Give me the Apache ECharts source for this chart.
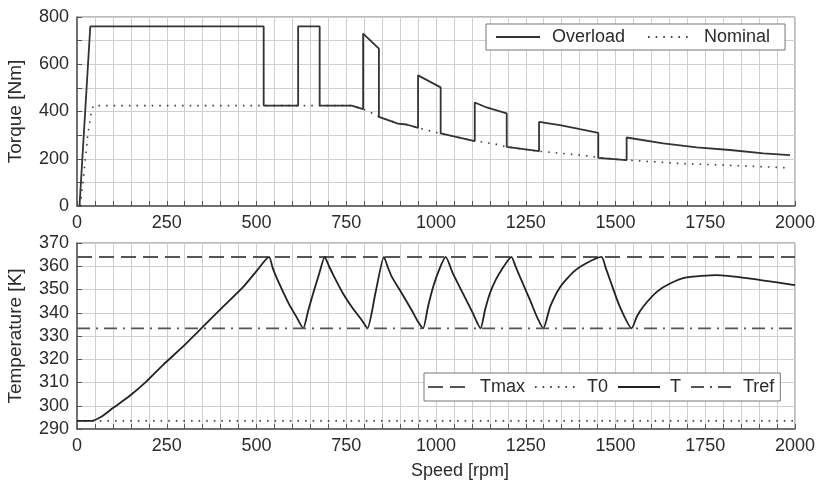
<!DOCTYPE html>
<html>
<head>
<meta charset="utf-8">
<script src="https://cdn.jsdelivr.net/npm/echarts@6/dist/echarts.min.js"></script>
<style>
  html, body { margin: 0; padding: 0; background: #fff; }
  #main { width: 825px; height: 482px; }
</style>
</head>
<body>
<div id="main"></div>
<script>
// speed tick labels (shared by both plots)
const speedTicks = [0, 250, 500, 750, 1000, 1250, 1500, 1750, 2000];

// top plot: torque [Nm]
const overloadSpeed = [7, 37, 520, 520, 616, 616, 676, 676, 765, 797, 797, 841, 841, 894, 918, 950, 950, 1013, 1013, 1108, 1108, 1141, 1197, 1197, 1287, 1287, 1345, 1401, 1452, 1452, 1531, 1531, 1633, 1726, 1819, 1912, 1986];
const overloadTorque = [0, 760, 760, 425, 425, 760, 760, 425, 425, 410, 730, 666, 377, 349, 345, 331, 553, 502, 307, 275, 438, 417, 392, 250, 232, 356, 342, 325, 310, 204, 194, 290, 265, 248, 237, 223, 215];

const nominalSpeed = [9, 20, 30, 40, 46, 765, 797, 821, 841, 894, 918, 950, 1002, 1013, 1108, 1125, 1169, 1197, 1289, 1301, 1430, 1452, 1531, 1545, 1680, 1819, 1972, 1984];
const nominalTorque = [0, 150, 300, 400, 425, 425, 410, 394, 378, 350, 345, 331, 311, 307, 275, 272, 261, 250, 231, 230, 211, 205, 194, 193, 180, 172, 162, 160];

// bottom plot: temperature [K]
const tempSpeed = [0, 40, 70, 100, 147, 193, 240, 295, 351, 407, 463, 500, 535, 545, 555, 574, 592, 611, 630, 645, 660, 675, 690, 702, 714, 741, 768, 793, 809, 832, 855, 866, 877, 905, 932, 950, 964, 978, 992, 1010, 1027, 1047, 1075, 1103, 1124, 1137, 1150, 1166, 1182, 1210, 1222, 1234, 1262, 1281, 1299, 1318, 1346, 1383, 1420, 1461, 1473, 1485, 1512, 1545, 1560, 1577, 1615, 1652, 1698, 1782, 1875, 2000];
const tempValue = [293.5, 293.5, 295.5, 299, 304.3, 310.4, 317.6, 325.4, 334, 342.6, 351.1, 357.9, 364, 359.3, 355.4, 349, 343.3, 338.3, 333.3, 341.5, 349.5, 357, 364, 360, 356.2, 348.3, 341.9, 336.9, 333.3, 349, 364, 359.5, 355.4, 348.3, 341.2, 336.1, 333.3, 342.8, 351.1, 359, 364, 356.9, 348.3, 339.7, 333.3, 341.5, 348.3, 354, 358.3, 364, 359.8, 355.4, 345.4, 338.3, 333.3, 342.6, 351.1, 357.6, 361.4, 364, 359.2, 354, 342.6, 333.3, 338.5, 342.6, 349, 352.6, 355.2, 356.2, 354.7, 351.9];

const tmaxValue = 364;
const t0Value = 293.5;
const trefValue = 333.3;
const limitSpeed = [0, 2000];

const FONT = 'Liberation Sans, Arial, sans-serif';
const INK = '#2b2b2b';

function pairs(xs, ys) {
    return xs.map((x, i) => [x, ys[i]]);
}
function flat(v) {
    return limitSpeed.map(x => [x, v]);
}

function xAxisFor(gridIndex) {
    return {
        type: 'value',
        gridIndex: gridIndex,
        min: speedTicks[0],
        max: speedTicks[speedTicks.length - 1],
        interval: speedTicks[1] - speedTicks[0],
        axisLine: { show: true, lineStyle: { color: '#555', width: 1.5 } },
        axisTick: { show: true, inside: true, length: 5, lineStyle: { color: '#555' } },
        minorTick: { show: true, splitNumber: 5, length: 5, lineStyle: { color: '#555' } },
        splitLine: { show: true, lineStyle: { color: '#cfcfcf', width: 1 } },
        minorSplitLine: { show: true, lineStyle: { color: '#cfcfcf', width: 1 } },
        axisLabel: { color: INK, fontSize: 18, fontFamily: FONT, margin: 8, formatter: v => String(v) }
    };
}

// legend icons: line only, hide the symbol part
const legendBase = {
    orient: 'horizontal',
    itemHeight: 14,
    backgroundColor: '#fff',
    borderColor: '#777',
    borderWidth: 1,
    borderRadius: 0,
    itemStyle: { opacity: 0 }
};

let mychart = echarts.init(document.getElementById('main'), null, { renderer: 'canvas' });

mychart.setOption({
    animation: false,
    backgroundColor: '#fff',
    grid: [
        { left: 77, top: 17, width: 718, height: 189, show: true, borderColor: '#777', borderWidth: 1, outerBoundsMode: 'none' },
        { left: 77, top: 243, width: 718, height: 186, show: true, borderColor: '#777', borderWidth: 1, outerBoundsMode: 'none' }
    ],
    xAxis: [xAxisFor(0), xAxisFor(1)],
    yAxis: [
        {
            type: 'value',
            gridIndex: 0,
            min: 0,
            max: 800,
            interval: 200,
            name: 'Torque [Nm]',
            nameLocation: 'middle',
            nameGap: 52,
            nameTextStyle: { color: INK, fontSize: 19, fontFamily: FONT },
            axisLine: { show: true, lineStyle: { color: '#555', width: 1.5 } },
            axisTick: { show: true, inside: true, length: 5, lineStyle: { color: '#555' } },
            minorTick: { show: true, splitNumber: 2, length: 5, lineStyle: { color: '#555' } },
            splitLine: { show: true, lineStyle: { color: '#cfcfcf', width: 1 } },
            minorSplitLine: { show: true, lineStyle: { color: '#cfcfcf', width: 1 } },
            axisLabel: { color: INK, fontSize: 18, fontFamily: FONT, margin: 8 }
        },
        {
            type: 'value',
            gridIndex: 1,
            min: 290,
            max: 370,
            interval: 10,
            name: 'Temperature [K]',
            nameLocation: 'middle',
            nameGap: 52,
            nameTextStyle: { color: INK, fontSize: 19, fontFamily: FONT },
            axisLine: { show: true, lineStyle: { color: '#555', width: 1.5 } },
            axisTick: { show: true, inside: true, length: 5, lineStyle: { color: '#555' } },
            splitLine: { show: true, lineStyle: { color: '#cfcfcf', width: 1 } },
            axisLabel: { color: INK, fontSize: 18, fontFamily: FONT, margin: 8 }
        }
    ],
    legend: [
        Object.assign({}, legendBase, {
            data: ['Overload', 'Nominal'],
            left: 486,
            top: 24,
            itemWidth: 44,
            itemGap: 22,
            padding: [4, 15, 4, 9],
            textStyle: { color: INK, fontSize: 18, fontFamily: FONT, padding: [0, 0, 0, 7] }
        }),
        Object.assign({}, legendBase, {
            data: ['Tmax', 'T0', 'T', 'Tref'],
            left: 424,
            top: 373,
            itemWidth: 42,
            itemGap: 9,
            padding: [5, 6, 5, 3],
            textStyle: { color: INK, fontSize: 18, fontFamily: FONT, padding: [0, 0, 0, 5] }
        })
    ],
    graphic: [
        {
            type: 'text',
            x: 460,
            y: 471,
            style: {
                text: 'Speed [rpm]',
                fill: INK,
                font: '18px ' + FONT,
                textAlign: 'center',
                textVerticalAlign: 'middle'
            }
        }
    ],
    series: [
        {
            name: 'Nominal',
            type: 'line',
            xAxisIndex: 0,
            yAxisIndex: 0,
            symbol: 'none',
            color: '#444',
            lineStyle: { color: '#444', width: 1.6, type: [1.6, 6] },
            data: pairs(nominalSpeed, nominalTorque),
            z: 2
        },
        {
            name: 'Overload',
            type: 'line',
            xAxisIndex: 0,
            yAxisIndex: 0,
            symbol: 'none',
            color: '#333',
            lineStyle: { color: '#333', width: 1.8 },
            data: pairs(overloadSpeed, overloadTorque),
            z: 3
        },
        {
            name: 'Tmax',
            type: 'line',
            xAxisIndex: 1,
            yAxisIndex: 1,
            symbol: 'none',
            color: '#555',
            lineStyle: { color: '#555', width: 2, type: [15, 7] },
            data: flat(tmaxValue)
        },
        {
            name: 'T0',
            type: 'line',
            xAxisIndex: 1,
            yAxisIndex: 1,
            symbol: 'none',
            color: '#444',
            lineStyle: { color: '#444', width: 1.6, type: [1.6, 6] },
            data: flat(t0Value)
        },
        {
            name: 'T',
            type: 'line',
            xAxisIndex: 1,
            yAxisIndex: 1,
            symbol: 'none',
            smooth: 0.2,
            color: '#222',
            lineStyle: { color: '#222', width: 1.8 },
            data: pairs(tempSpeed, tempValue),
            z: 3
        },
        {
            name: 'Tref',
            type: 'line',
            xAxisIndex: 1,
            yAxisIndex: 1,
            symbol: 'none',
            color: '#555',
            lineStyle: { color: '#555', width: 1.6, type: [13, 6, 2, 6] },
            data: flat(trefValue)
        }
    ]
});
</script>
</body>
</html>
